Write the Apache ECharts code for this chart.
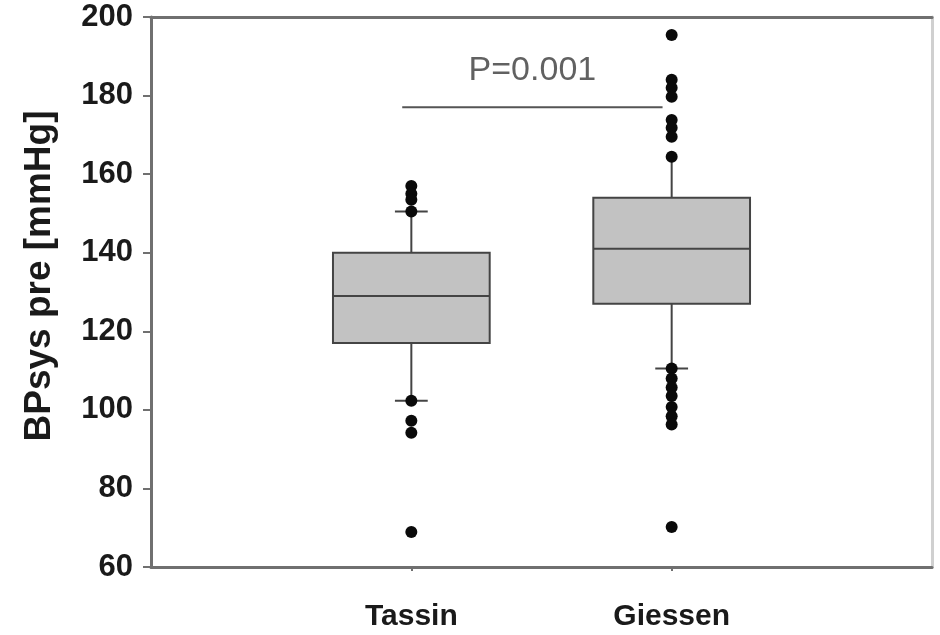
<!DOCTYPE html>
<html>
<head>
<meta charset="utf-8">
<script src="https://cdn.jsdelivr.net/npm/echarts@6/dist/echarts.min.js"></script>
<style>html,body{margin:0;padding:0;background:#fff}#c{width:940px;height:635px}</style>
</head>
<body>
<div id="c"></div>
<script>
const groups = ['Tassin', 'Giessen'];
const groupPos = [1, 2];
const whiskerLow = [102.3, 110.5];
const q1 = [117, 127];
const median = [129, 141];
const q3 = [140, 154];
const whiskerHigh = [150.5, 164.5];
const capLow = [102.3, 110.5];
const capHigh = [150.5, null];
const outliersTassin = [157, 155, 153.5, 150.5, 102.3, 97.2, 94.2, 68.9];
const outliersGiessen = [195.4, 184, 182, 179.7, 173.8, 171.8, 169.5, 164.4, 110.5, 108, 105.7, 103.5, 100.7, 98.4, 96.3, 70.2];
const pLine = [[0.965, 177], [1.965, 177]];
const pLabel = 'P=0.001';
const pLabelPos = [1.465, 186.3];
const yTicks = [60, 80, 100, 120, 140, 160, 180, 200];

const chart = echarts.init(document.getElementById('c'));
const boxData = groups.map((g, i) => [groupPos[i], whiskerLow[i], q1[i], median[i], q3[i], whiskerHigh[i], capLow[i], capHigh[i]]);
const outData = [];
outliersTassin.forEach(v => outData.push([groupPos[0], v]));
outliersGiessen.forEach(v => outData.push([groupPos[1], v]));

const lineC = '#444';
chart.setOption({
  animation: false,
  grid: {left: 151, right: 8, top: 17, bottom: 68},
  xAxis: [{
    type: 'value', min: 0, max: 3, interval: 1,
    axisLine: {show: true, lineStyle: {color: '#707070', width: 3}},
    axisTick: {show: true, customValues: groupPos, length: 4, lineStyle: {color: '#707070', width: 2}},
    axisLabel: {customValues: groupPos, formatter: v => groups[groupPos.indexOf(v)] || '', fontFamily: 'Liberation Sans, Arial', fontWeight: 'bold', fontSize: 30, color: '#1a1a1a', margin: 35},
    splitLine: {show: false}
  }, {
    type: 'value', min: 0, max: 3, position: 'top',
    axisLine: {show: true, onZero: false, lineStyle: {color: '#707070', width: 3}},
    axisTick: {show: false}, axisLabel: {show: false}, splitLine: {show: false}
  }],
  yAxis: [{
    type: 'value', min: 60, max: 200, interval: 20,
    name: 'BPsys pre [mmHg]', nameLocation: 'middle', nameGap: 93,
    nameTextStyle: {fontFamily: 'Liberation Sans, Arial', fontWeight: 'bold', fontSize: 37, color: '#1a1a1a', padding: [0, 0, 0, 32]},
    axisLine: {show: true, lineStyle: {color: '#707070', width: 3}},
    axisTick: {show: true, length: 8, lineStyle: {color: '#707070', width: 2}},
    axisLabel: {fontFamily: 'Liberation Sans, Arial', fontWeight: 'bold', fontSize: 31, color: '#1a1a1a', margin: 18},
    splitLine: {show: false}
  }, {
    type: 'value', min: 60, max: 200, position: 'right',
    axisLine: {show: true, onZero: false, lineStyle: {color: '#d0d0d0', width: 3}},
    axisTick: {show: false}, axisLabel: {show: false}, splitLine: {show: false}
  }],
  series: [{
    type: 'custom',
    data: boxData,
    renderItem: function (params, api) {
      const x = api.value(0);
      const half = 0.301;
      const capHalf = 0.063;
      const pLow = api.coord([x, api.value(1)]);
      const pQ1 = api.coord([x - half, api.value(2)]);
      const pMed = api.coord([x - half, api.value(3)]);
      const pQ3 = api.coord([x + half, api.value(4)]);
      const pHigh = api.coord([x, api.value(5)]);
      const pc = api.coord([x, api.value(2)]);
      const pc3 = api.coord([x, api.value(4)]);
      const right = pQ3[0];
      const children = [
        {type: 'line', shape: {x1: pLow[0], y1: pLow[1], x2: pc[0], y2: pc[1]}, style: {stroke: lineC, lineWidth: 2}},
        {type: 'line', shape: {x1: pHigh[0], y1: pHigh[1], x2: pc3[0], y2: pc3[1]}, style: {stroke: lineC, lineWidth: 2}},
        {type: 'rect', shape: {x: pQ1[0], y: pQ3[1], width: right - pQ1[0], height: pQ1[1] - pQ3[1]}, style: {fill: '#c2c2c2', stroke: lineC, lineWidth: 2}},
        {type: 'line', shape: {x1: pMed[0], y1: pMed[1], x2: right, y2: pMed[1]}, style: {stroke: lineC, lineWidth: 2}}
      ];
      [api.value(6), api.value(7)].forEach(c => {
        if (c != null && !isNaN(c)) {
          const a = api.coord([x - capHalf, c]);
          const b = api.coord([x + capHalf, c]);
          children.push({type: 'line', shape: {x1: a[0], y1: a[1], x2: b[0], y2: b[1]}, style: {stroke: lineC, lineWidth: 2}});
        }
      });
      return {type: 'group', children: children};
    },
    z: 2
  }, {
    type: 'scatter', data: outData, symbol: 'circle', symbolSize: 12,
    itemStyle: {color: '#0a0a0a', opacity: 1}, z: 3
  }, {
    type: 'line', data: pLine, symbol: 'none',
    lineStyle: {color: '#555', width: 2}, z: 2
  }, {
    type: 'scatter', data: [pLabelPos], symbolSize: 0,
    label: {show: true, position: 'inside', formatter: pLabel, fontFamily: 'Liberation Sans, Arial', fontSize: 34, color: '#3a3a3a'},
    z: 4
  }]
});
</script>
</body>
</html>
